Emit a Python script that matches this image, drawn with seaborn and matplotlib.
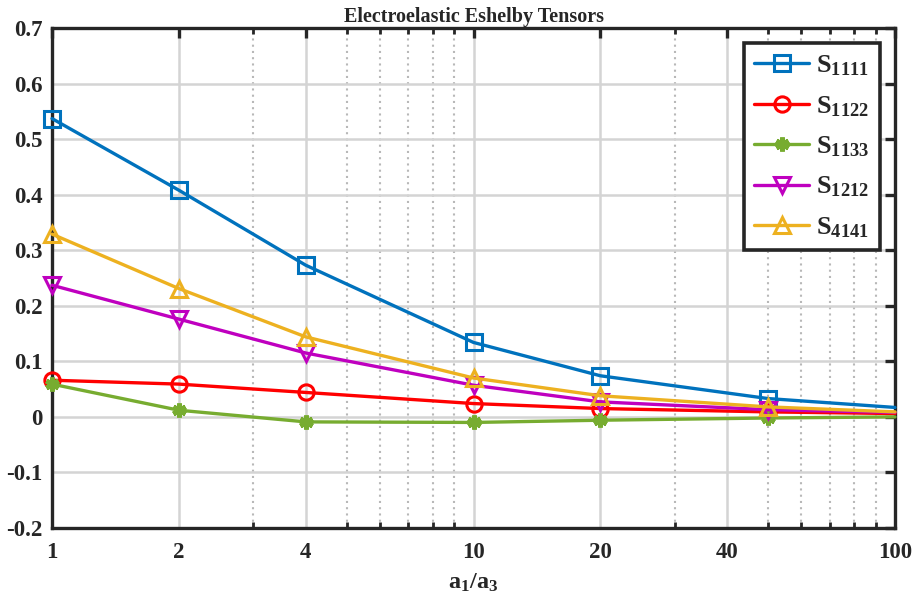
import numpy as np
import pandas as pd
import matplotlib
matplotlib.use("Agg")
import matplotlib.pyplot as plt
import seaborn as sns
from matplotlib.ticker import FixedLocator, NullFormatter

ratio = [1, 2, 4, 10, 20, 50, 100]
s1111 = [0.537, 0.408, 0.273, 0.134, 0.074, 0.033, 0.017]
s1122 = [0.066, 0.059, 0.044, 0.024, 0.015, 0.009, 0.006]
s1133 = [0.059, 0.012, -0.009, -0.010, -0.006, -0.002, 0.000]
s1212 = [0.237, 0.176, 0.115, 0.057, 0.027, 0.013, 0.008]
s4141 = [0.329, 0.231, 0.144, 0.070, 0.038, 0.018, 0.009]

series_names = [r"$\mathrm{S_{1111}}$", r"$\mathrm{S_{1122}}$", r"$\mathrm{S_{1133}}$",
                r"$\mathrm{S_{1212}}$", r"$\mathrm{S_{4141}}$"]
series_vals = [s1111, s1122, s1133, s1212, s4141]

xticks = [1, 2, 4, 10, 20, 40, 100]
xticklabels = ["1", "2", "4", "10", "20", "40", "100"]
yticks = [-0.2, -0.1, 0, 0.1, 0.2, 0.3, 0.4, 0.5, 0.6, 0.7]
yticklabels = ["-0.2", "-0.1", "0", "0.1", "0.2", "0.3", "0.4", "0.5", "0.6", "0.7"]

colors = ["#0072BD", "#FF0000", "#77AC30", "#BF00BF", "#EDB120"]
markers = ["s", "o", (6, 2, 0), "v", "^"]

sns.set_style("white")
plt.rcParams["font.family"] = ["Liberation Serif", "DejaVu Serif"]
plt.rcParams["font.weight"] = "bold"
plt.rcParams["mathtext.fontset"] = "custom"
plt.rcParams["mathtext.rm"] = "Liberation Serif:bold"
plt.rcParams["mathtext.it"] = "Liberation Serif:bold"
plt.rcParams["mathtext.bf"] = "Liberation Serif:bold"

fig = plt.figure(figsize=(9.13, 5.96), dpi=100)
ax = fig.add_axes([52 / 913, 1 - 528 / 596, (895 - 52) / 913, 500 / 596])

for name, vals, c, m in zip(series_names, series_vals, colors, markers):
    df = pd.DataFrame({"x": ratio, "y": vals})
    filled = isinstance(m, tuple)
    sns.lineplot(data=df, x="x", y="y", ax=ax, color=c, label=name,
                 linewidth=2.4, marker=m, markersize=11 if not filled else 10,
                 markevery=list(range(6)),
                 markerfacecolor="none" if not filled else c,
                 markeredgecolor=c, markeredgewidth=2.2 if not filled else 3.5,
                 clip_on=False, zorder=3)

ax.set_xscale("log")
ax.set_xlim(1, 100)
ax.set_ylim(-0.2, 0.7)
ax.xaxis.set_major_locator(FixedLocator(xticks))
ax.set_xticklabels(xticklabels)
minor = [3, 5, 6, 7, 8, 9, 30, 50, 60, 70, 80, 90]
ax.xaxis.set_minor_locator(FixedLocator(minor))
ax.xaxis.set_minor_formatter(NullFormatter())
ax.set_yticks(yticks)
ax.set_yticklabels(yticklabels)

ax.grid(True, which="major", color="#d4d4d4", linewidth=1.8, linestyle="-", zorder=0)
ax.grid(True, which="minor", axis="x", color="#b8b8b8", linewidth=1.5, linestyle=(0, (1, 2)), zorder=0)
ax.set_axisbelow(True)

for sp in ax.spines.values():
    sp.set_visible(True)
    sp.set_color("#262626")
    sp.set_linewidth(2.4)

ax.tick_params(axis="both", which="major", direction="in", length=7, width=2.4,
               color="#262626", top=True, right=True, labelsize=16.5)
ax.tick_params(axis="x", which="major", pad=10)
ax.tick_params(axis="y", which="major", pad=7)
ax.tick_params(axis="x", which="minor", direction="in", length=4, width=2.0,
               color="#262626", top=True, bottom=True)
for lab in ax.get_xticklabels() + ax.get_yticklabels():
    lab.set_fontweight("bold")

ax.set_title("Electroelastic Eshelby Tensors", fontsize=14.5, fontweight="bold", pad=4)
ax.set_xlabel(r"$\mathrm{a_1/a_3}$", fontsize=17.5, labelpad=6)
ax.set_ylabel("")

leg = ax.legend(loc="upper right", bbox_to_anchor=(0.982, 0.97), borderaxespad=0,
                fontsize=19, handlelength=2.1, labelspacing=0.6, handletextpad=0.25,
                borderpad=0.4, fancybox=False, framealpha=1)
leg.get_frame().set_edgecolor("#262626")
leg.get_frame().set_linewidth(2.6)

fig.savefig("out.png", dpi=100)
